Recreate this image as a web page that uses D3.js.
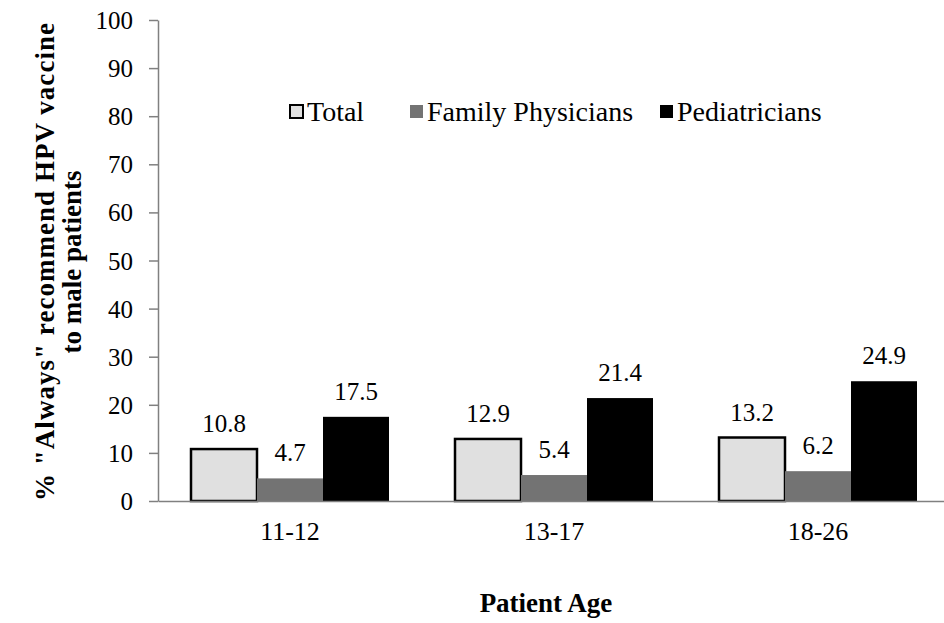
<!DOCTYPE html>
<html><head><meta charset="utf-8">
<script src="https://cdn.jsdelivr.net/npm/d3@7"></script>
<style>body{margin:0;background:#fff}svg{display:block;font-family:"Liberation Serif","Times New Roman",serif}</style>
</head><body><svg id="c" width="944" height="623"></svg>
<script>
const categories = ["11-12", "13-17", "18-26"];
const seriesNames = ["Total", "Family Physicians", "Pediatricians"];
const totalValues = [10.8, 12.9, 13.2];
const familyValues = [4.7, 5.4, 6.2];
const pediatricianValues = [17.5, 21.4, 24.9];
const yTicks = [0, 10, 20, 30, 40, 50, 60, 70, 80, 90, 100];
const seriesValues = [totalValues, familyValues, pediatricianValues];
const fills = ["#e0e0e0", "#737373", "#000000"];
const strokes = ["#000000", "#737373", "#000000"];
const strokeW = [2.5, 0, 0];

const svg = d3.select("#c");
const x0 = d3.scaleBand().domain(categories).range([158, 950]).padding(0);
const x1 = d3.scaleBand().domain(seriesNames).range([0, x0.bandwidth()]).paddingInner(0).paddingOuter(0.5);
const y = d3.scaleLinear().domain([0, 100]).range([501, 20]);

// y axis
const ya = svg.append("g").attr("transform", "translate(158,0)")
  .call(d3.axisLeft(y).tickValues(yTicks).tickSize(9).tickPadding(16).tickSizeOuter(0));
ya.select(".domain").attr("stroke", "#808080").attr("stroke-width", 1.5);
ya.selectAll(".tick line").attr("stroke", "#808080").attr("stroke-width", 1.5);
ya.selectAll(".tick text").attr("font-size", 25).attr("font-family", "Liberation Serif").attr("fill", "#000").attr("dy", "0.34em");

// bars
const groups = svg.append("g").selectAll("g").data(categories).join("g")
  .attr("transform", d => `translate(${x0(d)},0)`);
seriesNames.forEach((s, si) => {
  groups.append("rect")
    .attr("x", x1(s)).attr("width", x1.bandwidth())
    .attr("y", (d, i) => y(seriesValues[si][i]))
    .attr("height", (d, i) => y(0) - y(seriesValues[si][i]))
    .attr("fill", fills[si]).attr("stroke", strokeW[si] ? strokes[si] : "none").attr("stroke-width", strokeW[si]);
  groups.append("text")
    .attr("x", x1(s) + x1.bandwidth() / 2)
    .attr("y", (d, i) => y(seriesValues[si][i]) - 17)
    .attr("text-anchor", "middle").attr("font-size", 25).attr("fill", "#000")
    .text((d, i) => seriesValues[si][i].toFixed(1));
});

// x axis
const xa = svg.append("g").attr("transform", "translate(0,501)")
  .call(d3.axisBottom(x0).tickSize(0).tickPadding(21));
xa.select(".domain").attr("stroke", "#808080").attr("stroke-width", 1.5);
xa.selectAll(".tick text").attr("font-size", 26).attr("font-family", "Liberation Serif").attr("fill", "#000");

// legend
const legendX = [290, 410, 660];
const lg = svg.append("g");
seriesNames.forEach((s, i) => {
  lg.append("rect").attr("x", legendX[i]).attr("y", 105).attr("width", 13).attr("height", 13)
    .attr("fill", fills[i]).attr("stroke", strokeW[i] ? "#000" : "none").attr("stroke-width", 2);
  lg.append("text").attr("x", legendX[i] + 17).attr("y", 121).attr("font-size", 28).attr("fill", "#000").text(s);
});

// axis titles
svg.append("text").attr("transform", "translate(54,262) rotate(-90)").attr("text-anchor", "middle")
  .attr("font-size", 27).attr("font-weight", "bold")
  .attr("textLength", 478).attr("lengthAdjust", "spacing")
  .text('% "Always" recommend HPV vaccine');
svg.append("text").attr("transform", "translate(81,262) rotate(-90)").attr("text-anchor", "middle")
  .attr("font-size", 27).attr("font-weight", "bold")
  .text('to male patients');
svg.append("text").attr("x", 546).attr("y", 612).attr("text-anchor", "middle")
  .attr("font-size", 27).attr("font-weight", "bold").text("Patient Age");
</script></body></html>
